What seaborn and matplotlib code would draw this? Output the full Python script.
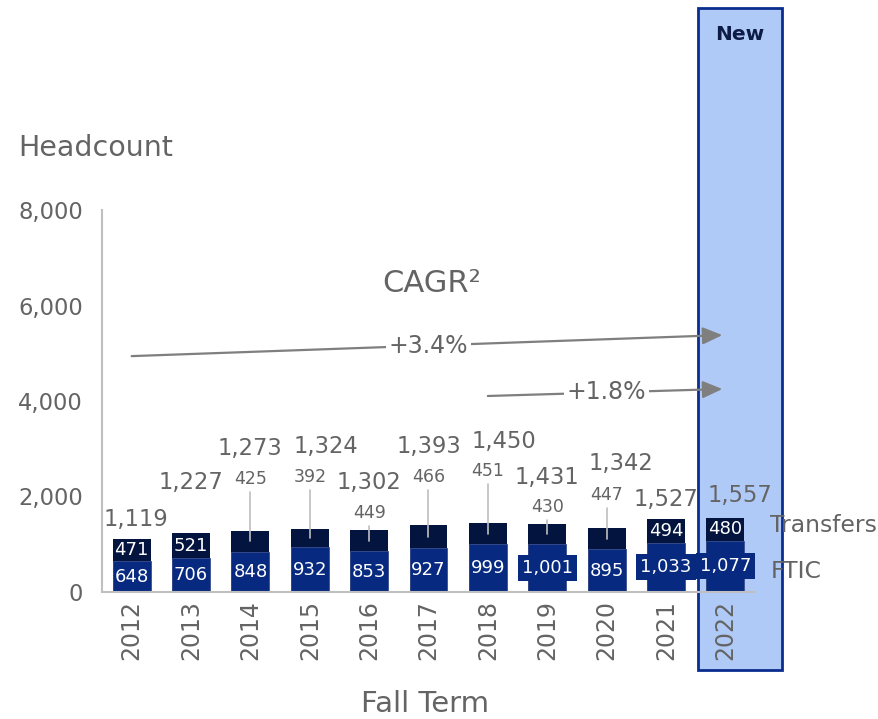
import matplotlib
matplotlib.use("Agg")
import matplotlib.pyplot as plt
from matplotlib.patches import Rectangle
import seaborn as sns
import pandas as pd

# Fall enrollment headcount by entry type
years = ["2012", "2013", "2014", "2015", "2016", "2017", "2018", "2019", "2020", "2021", "2022"]
ftic = [648, 706, 848, 932, 853, 927, 999, 1001, 895, 1033, 1077]
transfers = [471, 521, 425, 392, 449, 466, 451, 430, 447, 494, 480]
cagr_labels = ["+3.4%", "+1.8%"]
y_ticks = [0, 2000, 4000, 6000, 8000]

totals = [f + t for f, t in zip(ftic, transfers)]

# label placement for total labels (x nudge in category units, y in data units)
total_label_dx = [0.08, 0, 0, 0.27, 0, 0, 0.27, 0, 0.25, 0, 0.25]
total_label_y = [1508, 2283, 2995, 3037, 2283, 3037, 3162, 2408, 2681, 1927, 2031]
# call-out heights for transfer values shown above their bars
callout_label_y = {2: 2366, 3: 2408, 4: 1654, 5: 2408, 6: 2534, 7: 1780, 8: 2031}

FTIC_COLOR = "#072A80"
TRANSFER_COLOR = "#03143F"
TEXT_GRAY = "#646464"
AXIS_GRAY = "#BFBFBF"

sns.set_style("white")
plt.rcParams["font.family"] = ["DejaVu Sans"]

fig = plt.figure(figsize=(8.79, 7.19), dpi=100)
fig.patch.set_facecolor("white")

# highlight panel for the newest term
W, H = 879, 719
panel = Rectangle((698 / W, 1 - 670 / H), (782 - 698) / W, (670 - 8) / H,
                  transform=fig.transFigure, facecolor="#B0CAF8",
                  edgecolor="#0B2D8E", linewidth=2, zorder=-1)
fig.add_artist(panel)
fig.text(740 / W, 1 - 34 / H, "New", ha="center", va="center",
         fontsize=14.5, fontweight="bold", color="#0D1B45")

ax = fig.add_axes([102 / W, 1 - 592 / H, (755 - 102) / W, (592 - 210) / H])
ax.patch.set_alpha(0)

df = pd.DataFrame({"year": years, "ftic": ftic, "transfers": transfers, "total": totals})

sns.barplot(data=df, x="year", y="total", order=years, color=TRANSFER_COLOR,
            saturation=1, width=0.64, errorbar=None, ax=ax, zorder=2,
            linewidth=0)
sns.barplot(data=df, x="year", y="ftic", order=years, color=FTIC_COLOR,
            saturation=1, width=0.64, errorbar=None, ax=ax, zorder=2,
            edgecolor="#3A4F8F", linewidth=0.6)

ax.set_xlim(-0.5, 10.5)
ax.set_ylim(0, 8000)
ax.set_yticks(y_ticks)
ax.set_yticklabels([f"{v:,}" for v in y_ticks])
ax.tick_params(axis="y", length=0, pad=13.7, labelsize=16.3, labelcolor=TEXT_GRAY)
ax.tick_params(axis="x", length=0, pad=5.5, labelsize=17, labelcolor=TEXT_GRAY,
               labelrotation=90)

for side in ("top", "right"):
    ax.spines[side].set_visible(False)
for side in ("left", "bottom"):
    ax.spines[side].set_color(AXIS_GRAY)
    ax.spines[side].set_linewidth(1.5)

ax.set_xlabel("Fall Term", fontsize=21, color=TEXT_GRAY)
ax.xaxis.set_label_coords(0.495, -0.256)
ax.set_ylabel("Headcount", fontsize=20.5, color=TEXT_GRAY, rotation=0,
              ha="left", va="center")
ax.yaxis.set_label_coords(-0.129, 1.162)

for i in range(len(years)):
    # total above each bar
    ax.text(i + total_label_dx[i], total_label_y[i], f"{totals[i]:,}",
            ha="center", va="center", fontsize=16.3, color=TEXT_GRAY, zorder=5)
    # FTIC value inside lower segment
    f_kw = {}
    if ftic[i] >= 1000:
        f_kw["bbox"] = dict(boxstyle="square,pad=0.22", facecolor=FTIC_COLOR,
                            edgecolor="none")
    ax.text(i, ftic[i] / 2, f"{ftic[i]:,}", ha="center", va="center",
            fontsize=13, color="white", zorder=5, **f_kw)
    # transfer value: inside segment or call-out with leader line
    mid = ftic[i] + transfers[i] / 2
    if i in callout_label_y:
        ly = callout_label_y[i]
        ax.text(i, ly, f"{transfers[i]:,}", ha="center", va="center",
                fontsize=12.5, color=TEXT_GRAY, zorder=5)
        ax.plot([i, i], [ly - 270, mid], color=AXIS_GRAY, lw=1.2, zorder=4)
    else:
        ax.text(i, mid, f"{transfers[i]:,}", ha="center", va="center",
                fontsize=13, color="white", zorder=5)

# series names beside the last bar
last = len(years) - 1
ax.text(10.76, ftic[last] + transfers[last] / 2 + 80, "Transfers", ha="left",
        va="center", fontsize=16.9, color=TEXT_GRAY, clip_on=False)
ax.text(10.76, ftic[last] / 2 - 110, "FTIC", ha="left", va="center",
        fontsize=16.9, color=TEXT_GRAY, clip_on=False)

# compound annual growth rate arrows
ax.text(5.05, 6470, "CAGR²", ha="center", va="center", fontsize=22,
        color=TEXT_GRAY)
arrow_style = dict(arrowstyle="-|>,head_length=0.8,head_width=0.35",
                   color="#7F7F7F", lw=1.6, mutation_scale=15,
                   shrinkA=0, shrinkB=0)
cagr_paths = [((0, 4940), (9.95, 5380)), ((6, 4105), (9.95, 4251))]
cagr_text_x = [5.0, 8.0]
for (start, end), tx, label in zip(cagr_paths, cagr_text_x, cagr_labels):
    ax.annotate("", xy=end, xytext=start, arrowprops=arrow_style, zorder=3)
    ty = start[1] + (end[1] - start[1]) * (tx - start[0]) / (end[0] - start[0])
    ax.text(tx, ty, label, ha="center", va="center", fontsize=17,
            color=TEXT_GRAY, zorder=4,
            bbox=dict(boxstyle="square,pad=0.12", facecolor="white",
                      edgecolor="none"))

fig.savefig("out.png", dpi=100, facecolor="white")
